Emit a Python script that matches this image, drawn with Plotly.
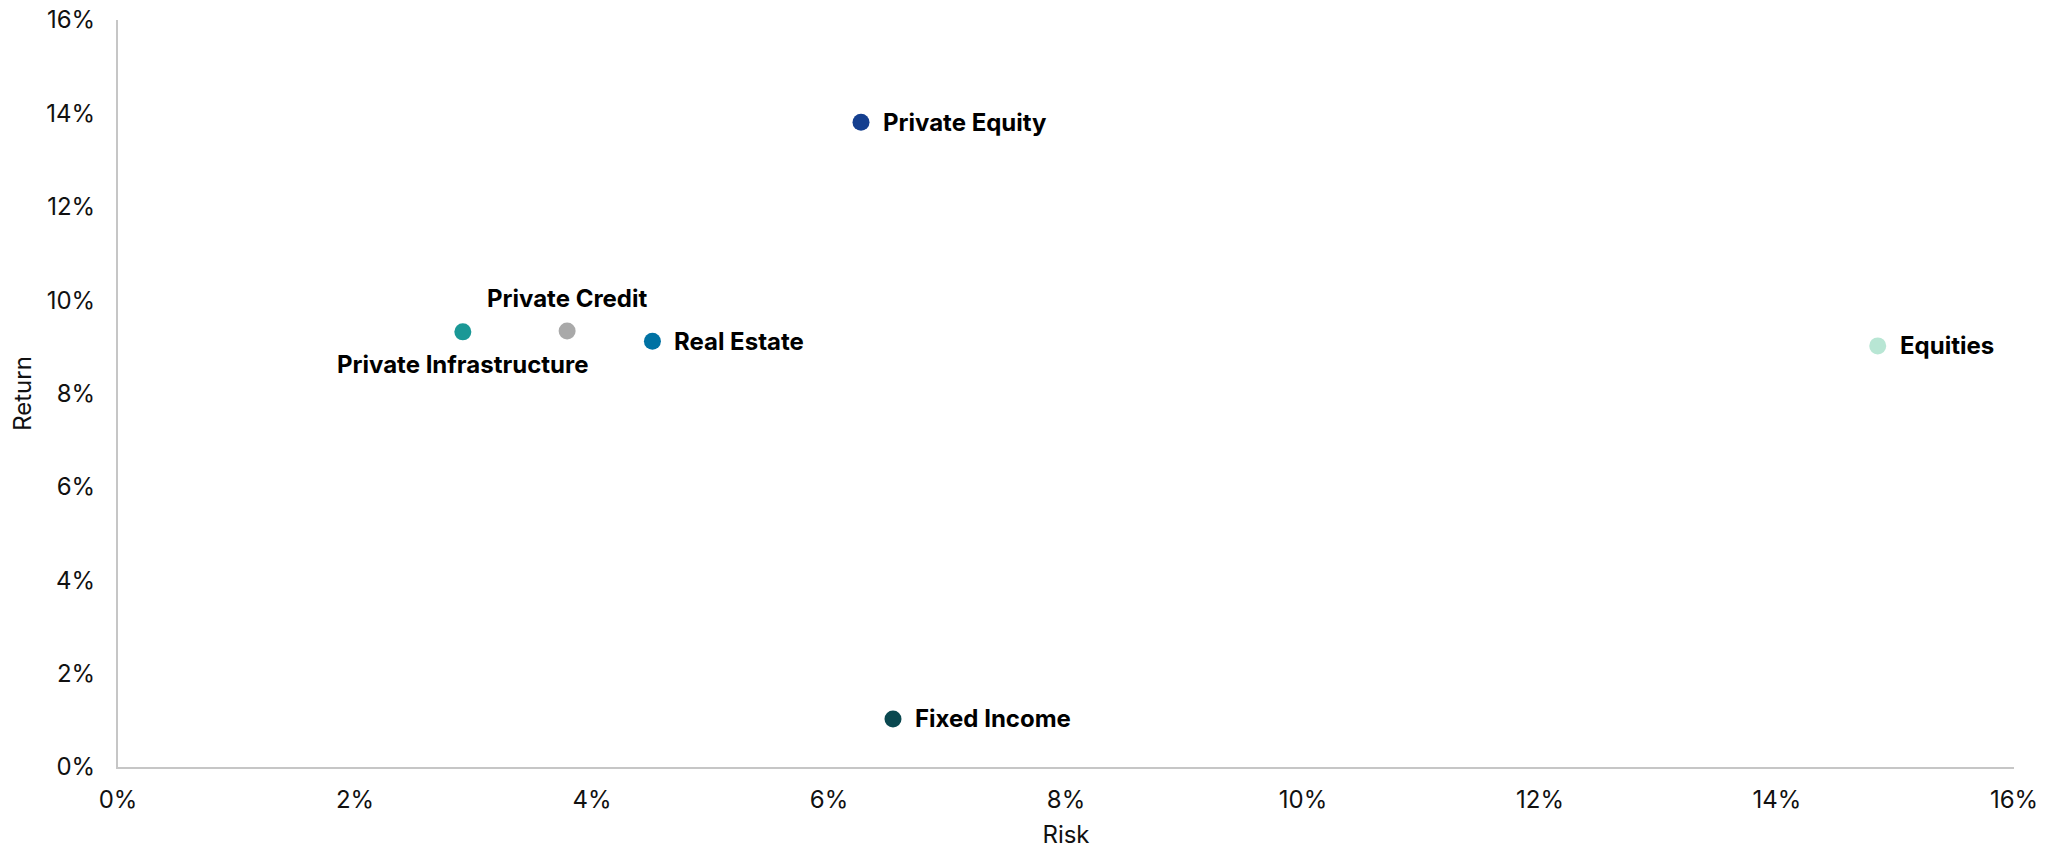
import plotly.graph_objects as go

names = ["Private Equity", "Private Infrastructure", "Private Credit", "Real Estate", "Equities", "Fixed Income"]
risk = [6.27, 2.91, 3.79, 4.51, 14.85, 6.54]
ret = [13.81, 9.32, 9.34, 9.12, 9.02, 1.03]
colors = ["#143F8F", "#1A9896", "#A9A9A9", "#0072A3", "#B8E6D4", "#0A4850"]
label_pos = ["right", "below", "above", "right", "right", "right"]

x_ticks = [0, 2, 4, 6, 8, 10, 12, 14, 16]
y_ticks = [0, 2, 4, 6, 8, 10, 12, 14, 16]

fig = go.Figure()
fig.add_trace(go.Scatter(
    x=risk, y=ret, mode="markers",
    marker=dict(size=17, color=colors, line=dict(width=0)),
    hoverinfo="skip", showlegend=False,
))

for n, xv, yv, pos in zip(names, risk, ret, label_pos):
    if pos == "right":
        kw = dict(xanchor="left", yanchor="middle", xshift=20, yshift=0)
    elif pos == "above":
        kw = dict(xanchor="center", yanchor="middle", xshift=0, yshift=32)
    else:
        kw = dict(xanchor="center", yanchor="middle", xshift=0, yshift=-33)
    fig.add_annotation(x=xv, y=yv, text="<b>" + n + "</b>", showarrow=False,
                       font=dict(family="Inter", size=24, color="#000000"), **kw)

axis_common = dict(
    showgrid=False, zeroline=False, showline=True, linecolor="#C6C6C6", linewidth=2,
    ticks="", tickfont=dict(family="Inter", size=24, color="#111111"),
    title_font=dict(family="Inter", size=24, color="#111111"),
    ticklabeloverflow="allow", automargin=False,
)

fig.update_xaxes(range=[0, 16], tickvals=x_ticks, ticktext=[f"{v}%" for v in x_ticks],
                 title_text="Risk", title_standoff=19, ticklabelstandoff=10, **axis_common)
fig.update_yaxes(range=[0, 16], tickvals=y_ticks, ticktext=[f"{v}%" for v in y_ticks],
                 title_text="Return", title_standoff=13, ticklabelstandoff=16, **axis_common)

fig.update_layout(
    width=2046, height=841,
    margin=dict(l=110, r=40, t=12, b=82, pad=0),
    plot_bgcolor="white", paper_bgcolor="white",
    font=dict(family="Inter"),
)

fig.write_html("out.html", config={"displayModeBar": False})
